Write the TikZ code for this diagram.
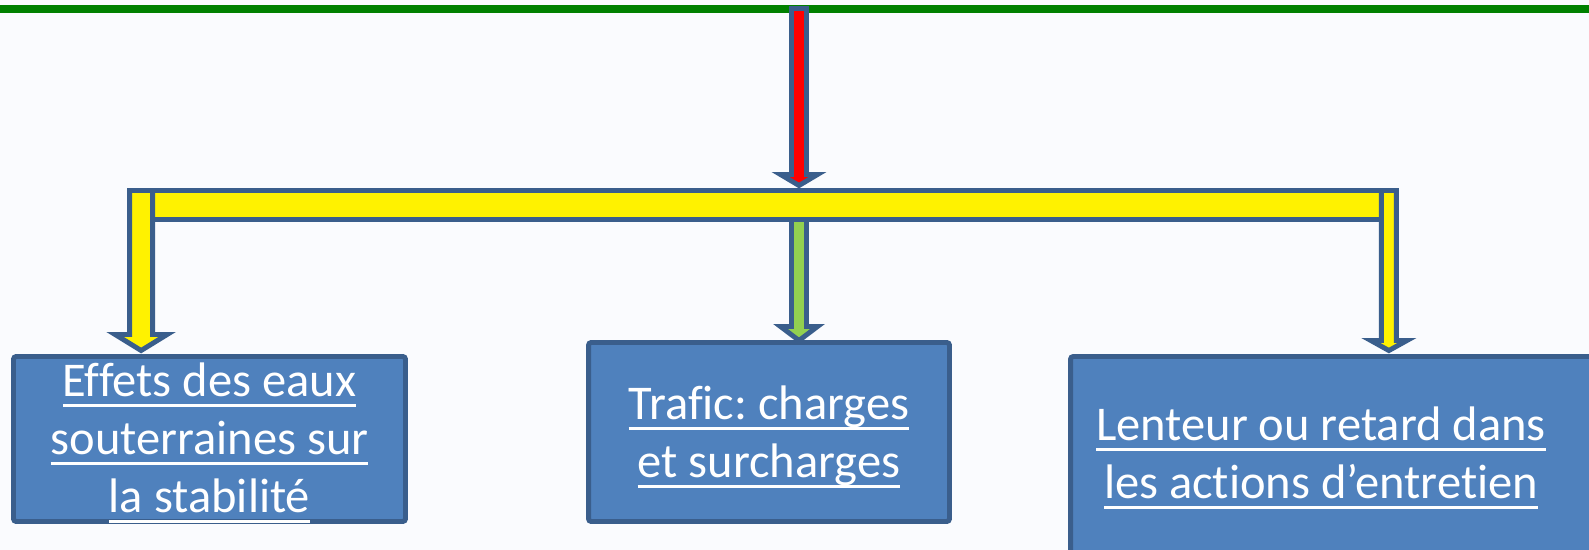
\documentclass[tikz,border=0pt]{standalone}
\usepackage{fontspec}
\setmainfont{Carlito}[Ligatures={NoCommon}]
\usetikzlibrary{calc}

\definecolor{bordure}{RGB}{58,94,140}
\definecolor{bleu}{RGB}{79,129,189}
\definecolor{vertpomme}{RGB}{146,208,80}
\definecolor{vertfonce}{RGB}{0,128,0}
\definecolor{fond}{RGB}{250,251,254}

\frenchspacing

% soulignement d'une ligne
\newcommand{\souligne}[1]{\leavevmode\setbox0\hbox{#1}\rlap{\rule[-5.8pt]{\wd0}{1.7pt}}\box0}

% fleche bloc : couleur, depart, pointe, demi-largeur fut, demi-largeur tete, longueur tete
\newcommand{\flecheBloc}[6]{%
  \draw[contour, fill=#1] ($(#2)+(-#4,0)$) -- ($(#3)+(-#4,-#6)$) -- ($(#3)+(-#5,-#6)$)
    -- (#3) -- ($(#3)+(#5,-#6)$) -- ($(#3)+(#4,-#6)$) -- ($(#2)+(#4,0)$) -- cycle;}

\begin{document}
\begin{tikzpicture}[x=0.02cm, y=-0.02cm, line join=miter,
  contour/.style={draw=bordure, line width=2.8pt, outer sep=0pt},
  boite/.style={contour, fill=bleu, rounded corners=1.5pt, inner sep=0pt},
  texte/.style={text=white, font=\fontsize{27.6}{33}\selectfont, align=center}]

	\useasboundingbox (0,0) rectangle (1589,550);
	\clip (0,0) rectangle (1589,550);
	\fill[fond] (0,0) rectangle (1589,550);

	\draw[vertfonce, line width=4.6pt] (0,9) -- (1589,9);

	\node[boite, minimum width=7.84cm, minimum height=3.3cm] (effets) at (209.5,439) {};
	\node[texte] (effetsTexte) at (209.5,443)
		{\souligne{Effets des eaux}\\\souligne{souterraines sur}\\\souligne{la stabilité}};
	\node[boite, minimum width=7.22cm, minimum height=3.58cm] (trafic) at (769,432) {};
	\node[texte] (traficTexte) at (769,437)
		{\souligne{Trafic: charges}\\\souligne{et surcharges}};
	\node[boite, minimum width=11.39cm, minimum height=4.87cm] (lenteur) at (1355.25,478.25) {};
	\node[texte] (lenteurTexte) at (1321,458)
		{\souligne{Lenteur ou retard dans}\\\souligne{les actions d’entretien}};

	\node[contour, fill=yellow, inner sep=0pt, minimum width=24.58cm, minimum height=0.58cm] (barre) at (767,205) {};

	\coordinate (haut) at (799,8.5);
	\coordinate (pRouge) at ($(haut |- barre.north)+(0,-5)$);
	\coordinate (dVert) at (haut |- barre.south);
	\coordinate (pVert) at ($(haut |- trafic.north)+(0,-2)$);
	\coordinate (dGauche) at ($(barre.north west)+(-11.5,0)$);
	\coordinate (pGauche) at ($(dGauche |- effets.north)+(0,-6)$);
	\coordinate (dDroite) at ($(barre.north east)+(7.5,0)$);
	\coordinate (pDroite) at ($(dDroite |- lenteur.north)+(0,-6)$);

	\flecheBloc{yellow}{dGauche}{pGauche}{11.5}{26}{16}
	\flecheBloc{yellow}{dDroite}{pDroite}{7.5}{18}{10}
	\flecheBloc{vertpomme}{dVert}{pVert}{7.5}{18.5}{14}
	\flecheBloc{red}{haut}{pRouge}{7.5}{18.5}{11}

\end{tikzpicture}
\end{document}
